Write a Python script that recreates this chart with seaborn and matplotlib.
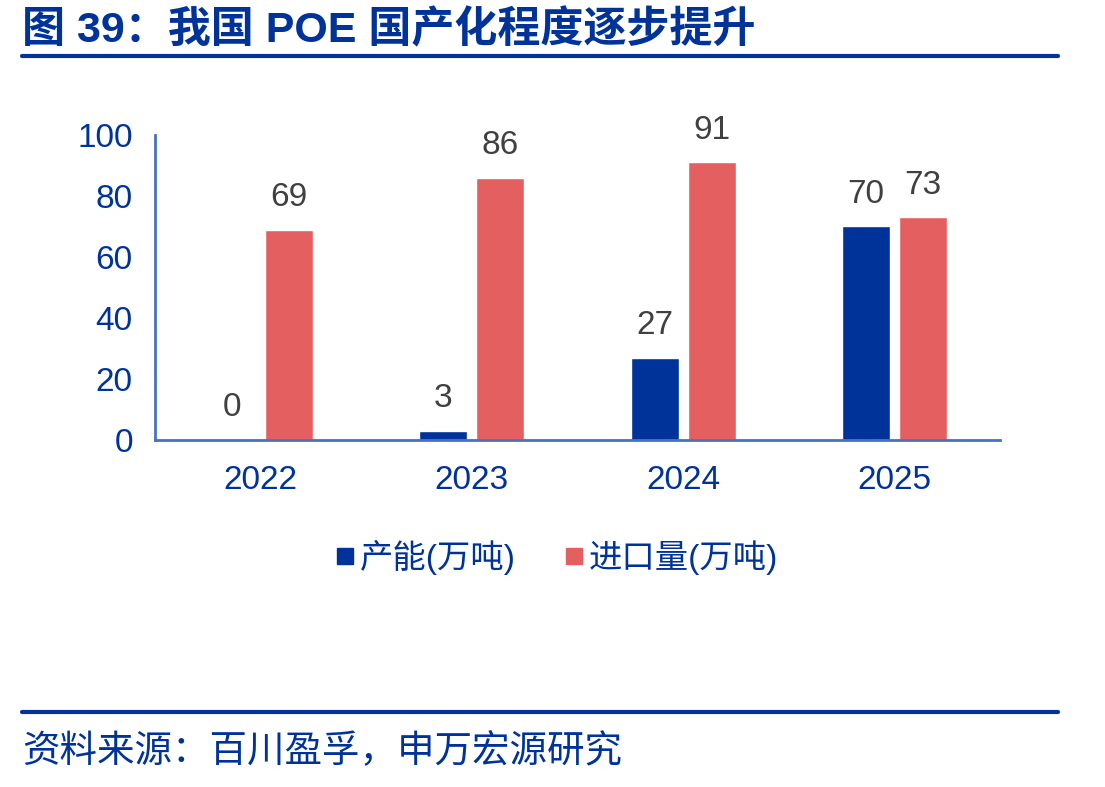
import pandas as pd
import matplotlib
matplotlib.use("Agg")
import matplotlib.pyplot as plt
import seaborn as sns
from matplotlib.lines import Line2D

years = ["2022", "2023", "2024", "2025"]
capacity = [0, 3, 27, 70]
imports = [69, 86, 91, 73]
series_names = ["产能(万吨)", "进口量(万吨)"]
y_ticks = [0, 20, 40, 60, 80, 100]

title_text = "图 39：我国 POE 国产化程度逐步提升"
source_text = "资料来源：百川盈孚，申万宏源研究"

BLUE = "#003399"
RED = "#E46060"
AXIS = "#4472C4"
LABEL = "#404040"
FONTS = ["Liberation Sans", "Noto Sans CJK SC", "DejaVu Sans"]

sns.set_theme(style="white")
plt.rcParams["font.family"] = FONTS

df = pd.DataFrame({
    "year": years * 2,
    "value": capacity + imports,
    "series": [series_names[0]] * len(years) + [series_names[1]] * len(years),
})

fig = plt.figure(figsize=(11.05, 7.87), dpi=100)
ax = fig.add_axes([0.1403, 0.4409, 0.7647, 0.3876])

sns.barplot(data=df, x="year", y="value", hue="series", order=years,
            hue_order=series_names, palette=[BLUE, RED], width=0.54, gap=0.16,
            saturation=1, ax=ax, legend=False)

for cont in ax.containers:
    ax.bar_label(cont, fmt="%d", padding=12, fontsize=24, color=LABEL)

ax.set_ylim(0, 100)
ax.set_xlim(-0.5, len(years) - 0.5)
ax.set_yticks(y_ticks)
ax.set_xlabel("")
ax.set_ylabel("")

# x ticks sit at category boundaries, labels at centres
ax.set_xticks([i - 0.5 for i in range(len(years) + 1)], minor=False)
ax.set_xticklabels([""] * (len(years) + 1))
ax.set_xticks(range(len(years)), minor=True)
ax.set_xticklabels(years, minor=True)
ax.tick_params(axis="x", which="minor", length=0, pad=18, labelsize=24, labelcolor=BLUE)
ax.tick_params(axis="x", which="major", length=8, width=2, color=AXIS, direction="out")
ax.tick_params(axis="y", length=10, width=2, color=AXIS, direction="out",
               labelsize=24, labelcolor=BLUE, pad=6)

for side in ["top", "right"]:
    ax.spines[side].set_visible(False)
for side in ["left", "bottom"]:
    ax.spines[side].set_color(AXIS)
    ax.spines[side].set_linewidth(2)
ax.grid(False)

handles = [Line2D([0], [0], marker="s", linestyle="", markersize=12,
                  markerfacecolor=c, markeredgecolor=c) for c in [BLUE, RED]]
leg = fig.legend(handles, series_names, loc="center", bbox_to_anchor=(554 / 1105, 1 - 557 / 787),
                 ncol=2, frameon=False, fontsize=24, handletextpad=0.0, columnspacing=1.3,
                 handlelength=0.9)
for t in leg.get_texts():
    t.set_color(BLUE)

fig.text(22 / 1105, 1 - 31 / 787, title_text, fontsize=31, fontweight="bold",
         color=BLUE, va="center", ha="left")
fig.add_artist(Line2D([22 / 1105, 1058 / 1105], [1 - 56 / 787] * 2, color=BLUE, linewidth=3))
fig.add_artist(Line2D([22 / 1105, 1058 / 1105], [1 - 712 / 787] * 2, color=BLUE, linewidth=3))
fig.text(22 / 1105, 1 - 752 / 787, source_text, fontsize=27, color=BLUE,
         va="center", ha="left")

fig.savefig("out.png", dpi=100)
